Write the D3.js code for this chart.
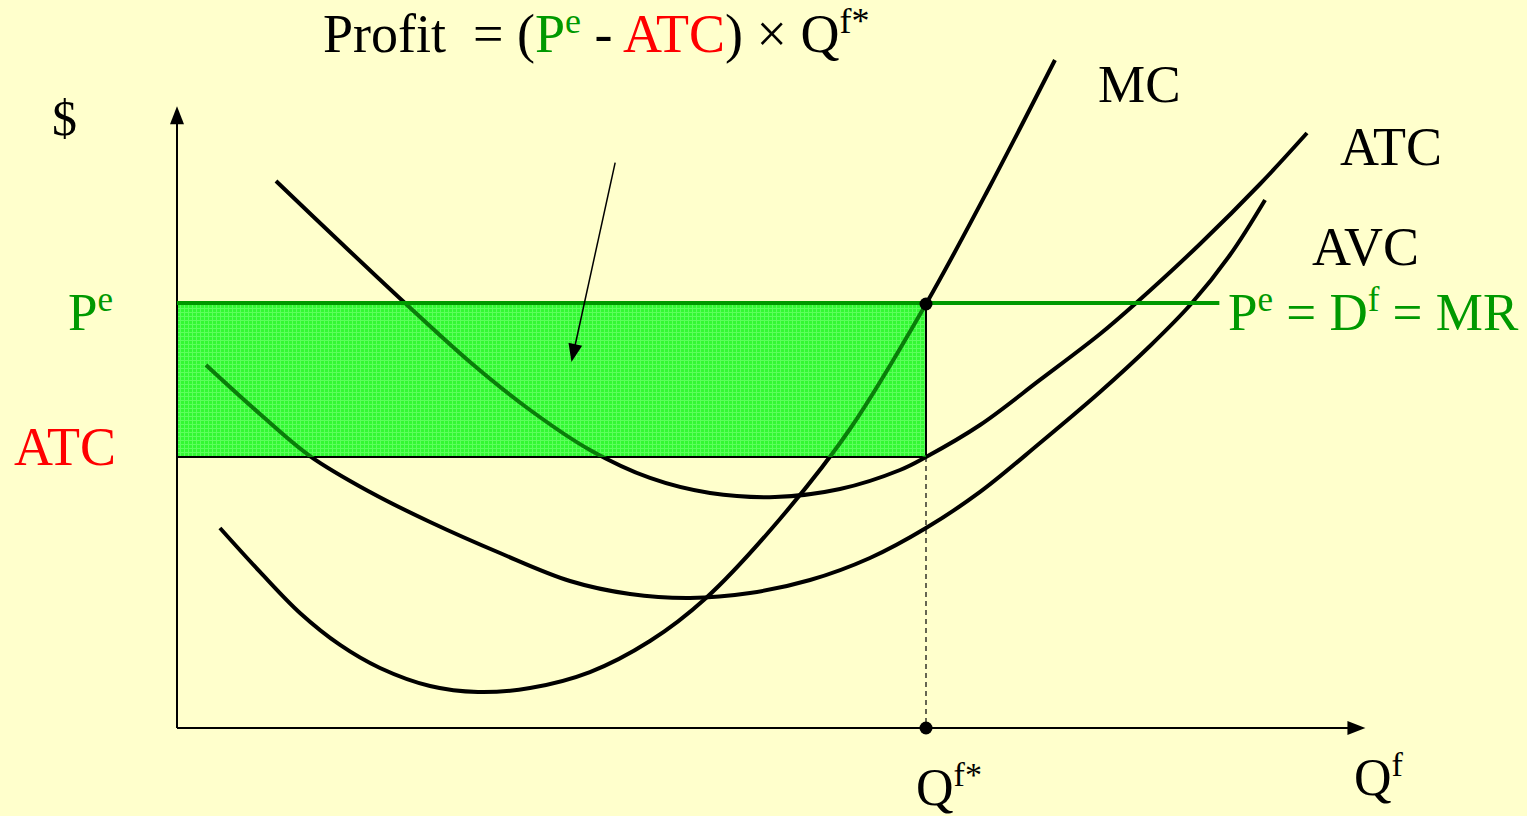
<!DOCTYPE html>
<html>
<head>
<meta charset="utf-8">
<script src="https://cdn.jsdelivr.net/npm/d3@7"></script>
<style>
  html, body { margin: 0; padding: 0; background: #ffffcc; }
  svg { display: block; }
  text { font-family: "Liberation Serif", "Times New Roman", serif; white-space: pre; }
</style>
</head>
<body>
<div id="chart"></div>
<script>
// Quantity / price levels (abstract units)
const qStar = 60;
const qMax = 95.2;
const pMax = 88;
const priceE = 60;
const atcAtQ = 38.35;
const mrEnd = 83.5;

// Cost curves, [quantity, $]
const mcCurve = [[3.44, 28.30], [6.65, 22.08], [9.85, 16.27], [13.06, 11.75], [16.26, 8.49], [20.27, 5.94], [24.11, 5.09], [28.28, 5.66], [33.08, 7.92], [37.89, 12.31], [42.38, 18.40], [48.30, 29.58], [53.91, 42.31], [60.00, 60.00], [65.13, 76.70], [70.33, 94.53]];
const atcCurve = [[7.93, 77.41], [13.06, 68.77], [18.26, 60.14], [23.47, 51.79], [28.28, 45.00], [33.08, 39.34], [37.89, 35.38], [42.70, 33.25], [47.90, 32.69], [53.11, 33.82], [57.92, 36.51], [60.00, 38.35], [64.33, 42.88], [69.13, 49.25], [73.94, 55.75], [76.74, 60.00], [81.95, 68.49], [86.76, 76.98], [90.52, 84.20]];
const avcCurve = [[2.32, 51.37], [6.65, 44.43], [10.65, 38.49], [15.46, 33.40], [20.27, 29.15], [25.87, 24.76], [31.48, 20.80], [36.29, 18.96], [41.09, 18.40], [45.90, 19.10], [50.71, 20.94], [55.51, 24.06], [60.00, 28.30], [64.33, 33.40], [69.13, 40.33], [73.94, 47.55], [77.94, 54.06], [81.23, 60.00], [84.35, 66.93], [87.16, 74.72]];

// Annotation arrow pointing at the profit area, [quantity, $]
const arrowFrom = [35.1, 80.0];
const arrowTo = [31.6, 51.8];

const green = "#009900";
const red = "#ff0000";

const width = 1527, height = 816;
const x = d3.scaleLinear().domain([0, qStar]).range([177, 926]);
const y = d3.scaleLinear().domain([0, priceE]).range([728, 304]);

const svg = d3.select("#chart").append("svg")
    .attr("width", width)
    .attr("height", height);

svg.append("rect")
    .attr("width", width)
    .attr("height", height)
    .attr("fill", "#ffffcc");

const defs = svg.append("defs");
const pat = defs.append("pattern")
    .attr("id", "dots")
    .attr("width", 4)
    .attr("height", 4)
    .attr("patternUnits", "userSpaceOnUse");
pat.append("rect").attr("width", 4).attr("height", 4).attr("fill", "#33f833");
pat.append("rect").attr("width", 4).attr("height", 1).attr("fill", "#5cff5c");
pat.append("rect").attr("width", 1).attr("height", 4).attr("fill", "#5cff5c");

defs.append("clipPath").attr("id", "profit-clip")
    .append("rect")
    .attr("x", x(0))
    .attr("y", y(priceE))
    .attr("width", x(qStar) - x(0))
    .attr("height", y(atcAtQ) - y(priceE));

const line = d3.line()
    .x(d => x(d[0]))
    .y(d => y(d[1]))
    .curve(d3.curveCatmullRom.alpha(0.5));

const curves = [mcCurve, atcCurve, avcCurve];

//Cost curves
svg.selectAll(".cost-curve")
    .data(curves)
    .enter()
    .append("path")
    .attr("class", "cost-curve")
    .attr("d", line)
    .attr("fill", "none")
    .attr("stroke", "black")
    .attr("stroke-width", 4);

//Profit rectangle
svg.append("rect")
    .attr("x", x(0))
    .attr("y", y(priceE))
    .attr("width", x(qStar) - x(0))
    .attr("height", y(atcAtQ) - y(priceE))
    .attr("fill", "url(#dots)")
    .attr("stroke", "black")
    .attr("stroke-width", 2);

//Curves seen through the rectangle
svg.append("g")
    .attr("clip-path", "url(#profit-clip)")
    .selectAll("path")
    .data(curves)
    .enter()
    .append("path")
    .attr("d", line)
    .attr("fill", "none")
    .attr("stroke", "#0a7d0a")
    .attr("stroke-width", 4);

//Dashed drop line
svg.append("line")
    .attr("x1", x(qStar))
    .attr("x2", x(qStar))
    .attr("y1", y(atcAtQ))
    .attr("y2", y(0))
    .attr("stroke", "black")
    .attr("stroke-width", 1.2)
    .attr("stroke-dasharray", "5,4");

//Axes
svg.append("line")
    .attr("x1", x(0)).attr("y1", y(0))
    .attr("x2", x(0)).attr("y2", y(pMax) + 16)
    .attr("stroke", "black").attr("stroke-width", 2);
svg.append("path")
    .attr("d", "M" + x(0) + "," + y(pMax) + " l-7,18 l14,0 Z")
    .attr("fill", "black");
svg.append("line")
    .attr("x1", x(0)).attr("y1", y(0))
    .attr("x2", x(qMax) - 16).attr("y2", y(0))
    .attr("stroke", "black").attr("stroke-width", 2);
svg.append("path")
    .attr("d", "M" + x(qMax) + "," + y(0) + " l-18,-7 l0,14 Z")
    .attr("fill", "black");

//MR line
svg.append("line")
    .attr("x1", x(0))
    .attr("x2", x(mrEnd))
    .attr("y1", y(priceE) - 1)
    .attr("y2", y(priceE) - 1)
    .attr("stroke", green)
    .attr("stroke-width", 4);

//Points
svg.selectAll(".pt")
    .data([[qStar, priceE], [qStar, 0]])
    .enter()
    .append("circle")
    .attr("class", "pt")
    .attr("cx", d => x(d[0]))
    .attr("cy", d => y(d[1]))
    .attr("r", 6.5)
    .attr("fill", "black");

//Annotation arrow
const ax1 = x(arrowFrom[0]), ay1 = y(arrowFrom[1]);
const ax2 = x(arrowTo[0]), ay2 = y(arrowTo[1]);
const ang = Math.atan2(ay2 - ay1, ax2 - ax1);
svg.append("line")
    .attr("x1", ax1).attr("y1", ay1)
    .attr("x2", ax2 - 14 * Math.cos(ang)).attr("y2", ay2 - 14 * Math.sin(ang))
    .attr("stroke", "black").attr("stroke-width", 1.5);
svg.append("path")
    .attr("d", "M0,0 L-18,-7 L-18,7 Z")
    .attr("transform", "translate(" + ax2 + "," + ay2 + ") rotate(" + (ang * 180 / Math.PI) + ")")
    .attr("fill", "black");

//Text labels with superscripts
function label(px, py, parts, size) {
    const t = svg.append("text")
        .attr("x", px)
        .attr("y", py)
        .style("font-size", size + "px");
    parts.forEach(function (p) {
        const s = t.append("tspan")
            .attr("fill", p.c || "black")
            .text(p.t);
        if (p.sup) {
            s.style("font-size", Math.round(size * 0.66) + "px")
                .attr("dy", -size * 0.36);
        } else if (p.after) {
            s.attr("dy", size * 0.36);
        }
    });
    return t;
}

label(323, 52, [
    {t: "Profit  = ("},
    {t: "P", c: green},
    {t: "e", c: green, sup: true},
    {t: " - ", after: true},
    {t: "ATC", c: red},
    {t: ") \u00d7 Q"},
    {t: "f*", sup: true}
], 54);

label(52, 135, [{t: "$"}], 50);
label(68, 330, [{t: "P", c: green}, {t: "e", c: green, sup: true}], 53);
label(14, 465, [{t: "ATC", c: red}], 54);
label(1098, 102, [{t: "MC"}], 53);
label(1340, 165, [{t: "ATC"}], 54);
label(1312, 265, [{t: "AVC"}], 54);
label(1228, 330, [
    {t: "P", c: green},
    {t: "e", c: green, sup: true},
    {t: " = D", c: green, after: true},
    {t: "f", c: green, sup: true},
    {t: " = MR", c: green, after: true}
], 53);
label(916, 805, [{t: "Q"}, {t: "f*", sup: true}], 52);
label(1354, 795, [{t: "Q"}, {t: "f", sup: true}], 52);
</script>
</body>
</html>
